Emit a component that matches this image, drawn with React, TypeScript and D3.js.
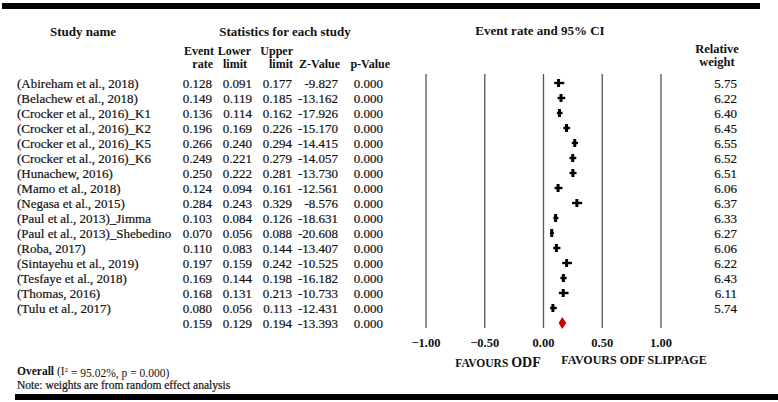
import React, { useEffect, useRef } from 'react';
import * as d3 from 'd3';

// study rows
const studies = [
  '(Abireham et al., 2018)',
  '(Belachew et al., 2018)',
  '(Crocker et al., 2016)_K1',
  '(Crocker et al., 2016)_K2',
  '(Crocker et al., 2016)_K5',
  '(Crocker et al., 2016)_K6',
  '(Hunachew, 2016)',
  '(Mamo et al., 2018)',
  '(Negasa et al., 2015)',
  '(Paul et al., 2013)_Jimma',
  '(Paul et al., 2013)_Shebedino',
  '(Roba, 2017)',
  '(Sintayehu et al., 2019)',
  '(Tesfaye et al., 2018)',
  '(Thomas, 2016)',
  '(Tulu et al., 2017)',
];
const eventRate = [0.128, 0.149, 0.136, 0.196, 0.266, 0.249, 0.250, 0.124, 0.284, 0.103, 0.070, 0.110, 0.197, 0.169, 0.168, 0.080];
const lowerLimit = [0.091, 0.119, 0.114, 0.169, 0.240, 0.221, 0.222, 0.094, 0.243, 0.084, 0.056, 0.083, 0.159, 0.144, 0.131, 0.056];
const upperLimit = [0.177, 0.185, 0.162, 0.226, 0.294, 0.279, 0.281, 0.161, 0.329, 0.126, 0.088, 0.144, 0.242, 0.198, 0.213, 0.113];
const zValue = [-9.827, -13.162, -17.926, -15.170, -14.415, -14.057, -13.730, -12.561, -8.576, -18.631, -20.608, -13.407, -10.525, -16.182, -10.733, -12.431];
const pValue = [0.000, 0.000, 0.000, 0.000, 0.000, 0.000, 0.000, 0.000, 0.000, 0.000, 0.000, 0.000, 0.000, 0.000, 0.000, 0.000];
const relWeight = [5.75, 6.22, 6.40, 6.45, 6.55, 6.52, 6.51, 6.06, 6.37, 6.33, 6.27, 6.06, 6.22, 6.43, 6.11, 5.74];

// pooled estimate
const overall = { rate: 0.159, lower: 0.129, upper: 0.194, z: -13.393, p: 0.000 };
const xTicks = [-1, -0.5, 0, 0.5, 1];

const FONT = "'Liberation Serif', 'Times New Roman', serif";

const ForestPlot = () => {
  const ref = useRef<SVGSVGElement | null>(null);

  useEffect(() => {
    if (ref.current) draw();
  }, []);

  const draw = () => {
    const svg = d3.select(ref.current);
    svg.selectAll('*').remove();

    const width = 778;
    const height = 402;

    svg.append('rect').attr('width', width).attr('height', height).attr('fill', '#fff');

    // 粗线
    svg.append('rect').attr('x', 2).attr('y', 3).attr('width', 758).attr('height', 6).attr('fill', '#000');
    svg.append('rect').attr('x', 15).attr('y', 394).attr('width', 763).attr('height', 6).attr('fill', '#000');

    const x = d3.scaleLinear().domain([-1, 1]).range([426, 661]);
    const rowY = d3.scaleLinear().domain([0, 1]).range([83, 98]);

    const txt = (px: number, py: number, s: string, opts: any = {}) =>
      svg.append('text')
        .attr('x', px)
        .attr('y', py)
        .attr('dy', '0.35em')
        .attr('text-anchor', opts.anchor || 'start')
        .style('font-family', FONT)
        .style('font-size', (opts.size || 13) + 'px')
        .style('font-weight', opts.bold ? 'bold' : 'normal')
        .style('fill', '#111')
        .style('stroke', opts.bold ? 'none' : '#111')
        .style('stroke-width', 0.2)
        .text(s);

    // 表头
    txt(83, 31, 'Study name', { anchor: 'middle', bold: true, size: 13 });
    txt(285, 31, 'Statistics for each study', { anchor: 'middle', bold: true, size: 13 });
    txt(540, 30, 'Event rate and 95% CI', { anchor: 'middle', bold: true, size: 13 });
    txt(214, 51, 'Event', { anchor: 'end', bold: true, size: 12 });
    txt(213, 64, 'rate', { anchor: 'end', bold: true, size: 12 });
    txt(251, 51, 'Lower', { anchor: 'end', bold: true, size: 12 });
    txt(247, 64, 'limit', { anchor: 'end', bold: true, size: 12 });
    txt(293, 51, 'Upper', { anchor: 'end', bold: true, size: 12 });
    txt(293, 64, 'limit', { anchor: 'end', bold: true, size: 12 });
    txt(340, 64, 'Z-Value', { anchor: 'end', bold: true, size: 12 });
    txt(390, 64, 'p-Value', { anchor: 'end', bold: true, size: 12 });
    txt(717, 49, 'Relative', { anchor: 'middle', bold: true, size: 12.5 });
    txt(717, 62, 'weight', { anchor: 'middle', bold: true, size: 12.5 });

    // 网格竖线
    svg.selectAll('.vline')
      .data(xTicks)
      .enter()
      .append('line')
      .attr('x1', d => x(d))
      .attr('x2', d => x(d))
      .attr('y1', 74)
      .attr('y2', 328)
      .style('stroke', '#555')
      .style('stroke-width', 1.3);

    svg.selectAll('.tick-label')
      .data(xTicks)
      .enter()
      .append('text')
      .attr('x', d => x(d))
      .attr('y', 343)
      .attr('dy', '0.35em')
      .attr('text-anchor', 'middle')
      .style('font-family', FONT)
      .style('font-size', '12.5px')
      .style('font-weight', 'bold')
      .style('fill', '#111')
      .text(d => d3.format('.2f')(d));

    // 行数据
    studies.forEach((name, i) => {
      const y = rowY(i);
      txt(17, y, name);
      txt(212, y, eventRate[i].toFixed(3), { anchor: 'end' });
      txt(252, y, lowerLimit[i].toFixed(3), { anchor: 'end' });
      txt(292, y, upperLimit[i].toFixed(3), { anchor: 'end' });
      txt(338, y, zValue[i].toFixed(3), { anchor: 'end' });
      txt(383, y, pValue[i].toFixed(3), { anchor: 'end' });
      txt(737, y, relWeight[i].toFixed(2), { anchor: 'end' });

      svg.append('line')
        .attr('x1', x(lowerLimit[i]))
        .attr('x2', x(upperLimit[i]))
        .attr('y1', y)
        .attr('y2', y)
        .style('stroke', '#000')
        .style('stroke-width', 2.4);
      svg.append('rect')
        .attr('x', x(eventRate[i]) - 1.5)
        .attr('y', y - 4)
        .attr('width', 3)
        .attr('height', 8)
        .attr('fill', '#000');
    });

    // 合并效应
    const oy = rowY(studies.length);
    txt(212, oy, overall.rate.toFixed(3), { anchor: 'end' });
    txt(252, oy, overall.lower.toFixed(3), { anchor: 'end' });
    txt(292, oy, overall.upper.toFixed(3), { anchor: 'end' });
    txt(338, oy, overall.z.toFixed(3), { anchor: 'end' });
    txt(383, oy, overall.p.toFixed(3), { anchor: 'end' });

    const dh = 6;
    svg.append('path')
      .attr('d', `M${x(overall.lower)},${oy} L${x(overall.rate)},${oy - dh} L${x(overall.upper)},${oy} L${x(overall.rate)},${oy + dh} Z`)
      .attr('fill', '#cc0000');

    // 底部标签
    const fav = svg.append('text')
      .attr('x', 498)
      .attr('y', 361)
      .attr('dy', '0.35em')
      .attr('text-anchor', 'middle')
      .style('font-family', FONT)
      .style('font-weight', 'bold')
      .style('fill', '#111');
    fav.append('tspan').style('font-size', '11.5px').text('FAVOURS ');
    fav.append('tspan').style('font-size', '14px').text('ODF');

    txt(634, 360, 'FAVOURS ODF SLIPPAGE', { anchor: 'middle', bold: true, size: 12 });

    const ov = svg.append('text')
      .attr('x', 17)
      .attr('y', 371)
      .attr('dy', '0.35em')
      .style('font-family', FONT)
      .style('font-size', '11.5px')
      .style('fill', '#111');
    ov.append('tspan').style('font-weight', 'bold').text('Overall ');
    ov.append('tspan').text('(I');
    ov.append('tspan').attr('dy', '-0.5em').style('font-size', '7px').text('2');
    ov.append('tspan').attr('dy', '0.5em').text(' = 95.02%, p = 0.000)');

    txt(17, 385, 'Note: weights are from random effect analysis', { size: 11.5 });
  };

  return (
    <svg
      ref={ref}
      width={778}
      height={402}
      style={{ position: 'absolute', left: 0, top: 0 }}
    />
  );
};

export default function App() {
  return <ForestPlot />;
}
